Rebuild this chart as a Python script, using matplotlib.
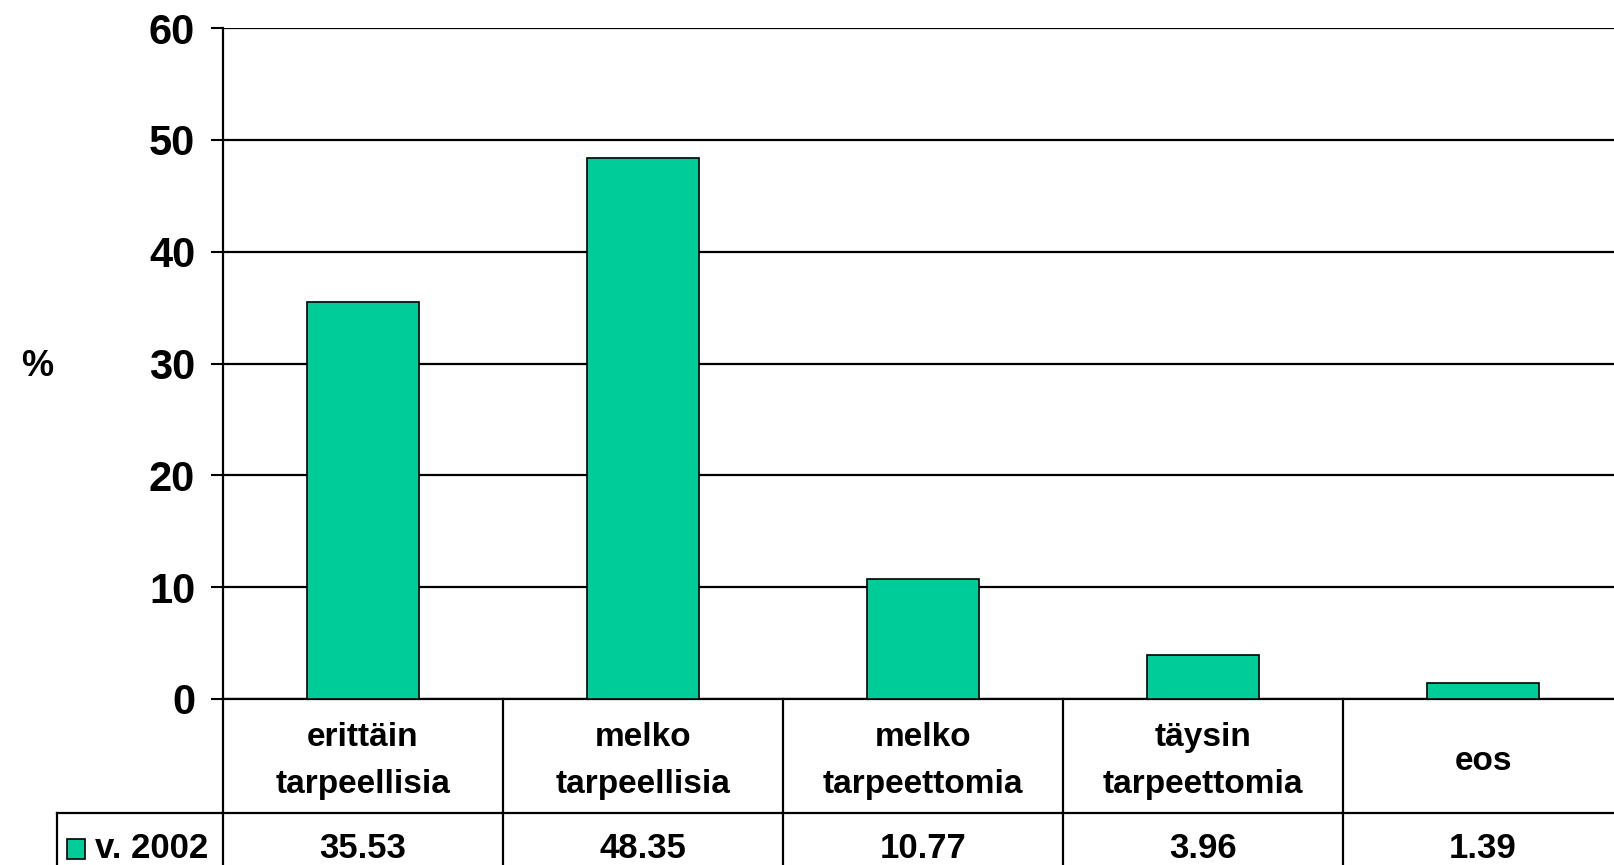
import matplotlib
matplotlib.use("Agg")
import matplotlib.pyplot as plt
import matplotlib.transforms as mtransforms
from matplotlib.lines import Line2D
from matplotlib.patches import Rectangle

plt.rcParams['font.family'] = ['Liberation Sans', 'DejaVu Sans']
plt.rcParams['font.weight'] = 'bold'

categories = ['erittäin\ntarpeellisia', 'melko\ntarpeellisia', 'melko\ntarpeettomia',
              'täysin\ntarpeettomia', 'eos']
values = [35.53, 48.35, 10.77, 3.96, 1.39]
value_labels = ['35.53', '48.35', '10.77', '3.96', '1.39']
series_name = 'v. 2002'
bar_color = '#00CC99'

W, H = 1614, 865
fig = plt.figure(figsize=(W / 100, H / 100), dpi=100)

# plot area in pixels (extends past the right edge like the original)
left, right, top, bottom = 223, 1623, 28, 699
ax = fig.add_axes([left / W, 1 - bottom / H, (right - left) / W, (bottom - top) / H])

x = range(len(categories))
ax.bar(x, values, width=0.4, color=bar_color, edgecolor='black', linewidth=1.2, zorder=3)

ax.set_xlim(-0.5, len(categories) - 0.5)
ax.set_ylim(0, 60)
ax.set_yticks(range(0, 61, 10))
ax.tick_params(axis='y', labelsize=30, length=9, width=1.5, pad=11)
ax.tick_params(axis='x', bottom=False, labelbottom=False)
for lab in ax.get_yticklabels():
    lab.set_fontweight('bold')
ax.grid(axis='y', color='black', linewidth=1.6, zorder=1)
ax.spines['top'].set_visible(False)
ax.spines['right'].set_visible(False)
ax.spines['left'].set_linewidth(1.6)
ax.spines['bottom'].set_linewidth(1.6)

fig.text(37 / W, 1 - 367 / H, '%', fontsize=26, fontweight='bold', ha='center', va='center')

# data table under the plot
tr = mtransforms.blended_transform_factory(ax.transData, fig.transFigure)
fy = lambda py: 1 - py / H
row_line = 813
for i in range(len(categories) + 1):
    xb = i - 0.5
    fig.add_artist(Line2D([xb, xb], [fy(bottom), fy(H + 20)], transform=tr,
                          color='black', linewidth=1.6))
fig.add_artist(Line2D([57 / W, 1.0], [fy(row_line), fy(row_line)],
                      transform=fig.transFigure, color='black', linewidth=1.6))
fig.add_artist(Line2D([57 / W, 57 / W], [fy(row_line), fy(H + 20)],
                      transform=fig.transFigure, color='black', linewidth=1.6))

for i, (cat, lab) in enumerate(zip(categories, value_labels)):
    fig.text(i, fy(761), cat, transform=tr, fontsize=24, fontweight='bold',
             ha='center', va='center', linespacing=1.65)
    fig.text(i, fy(849), lab, transform=tr, fontsize=25, fontweight='bold',
             ha='center', va='center')

# legend key
fig.add_artist(Rectangle((67 / W, fy(859)), 18 / W, 20 / H, transform=fig.transFigure,
                         facecolor=bar_color, edgecolor='black', linewidth=1.2))
fig.text(95 / W, fy(849), series_name, fontsize=25, fontweight='bold', ha='left', va='center')

fig.savefig('out.png', dpi=100)
